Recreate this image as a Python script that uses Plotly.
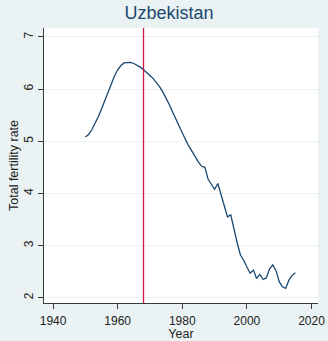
import plotly.graph_objects as go

# Total fertility rate, Uzbekistan, annual 1950-2015
years = list(range(1950, 2016))
tfr = [
    5.08, 5.13, 5.22, 5.34, 5.47, 5.62, 5.78, 5.94, 6.10, 6.25,
    6.37, 6.45, 6.50, 6.51, 6.51, 6.49, 6.46, 6.42, 6.37, 6.32,
    6.26, 6.20, 6.13, 6.04, 5.94, 5.83, 5.70, 5.56, 5.42, 5.28,
    5.15, 5.03, 4.91, 4.80, 4.70, 4.60, 4.52, 4.50, 4.27, 4.17,
    4.08, 4.19, 3.98, 3.78, 3.55, 3.59, 3.30, 3.05, 2.82, 2.72,
    2.59, 2.47, 2.53, 2.37, 2.45, 2.35, 2.38, 2.55, 2.63, 2.52,
    2.31, 2.21, 2.18, 2.34, 2.43, 2.48,
]
marker_year = 1968

x_ticks = [1940, 1960, 1980, 2000, 2020]
y_ticks = [2, 3, 4, 5, 6, 7]

navy = "#1A476F"
bg = "#EAF2F3"
axis_col = "#3a3a3a"
font = "Liberation Sans, Arial, sans-serif"

fig = go.Figure()
fig.add_trace(go.Scatter(
    x=years, y=tfr, mode="lines",
    line=dict(color=navy, width=1.3),
    showlegend=False, hoverinfo="skip",
))

fig.add_shape(
    type="line", xref="x", yref="paper",
    x0=marker_year, x1=marker_year, y0=0, y1=1,
    line=dict(color="#CC1845", width=1.3),
)

fig.update_layout(
    width=328, height=341,
    margin=dict(l=44, r=10, t=28, b=38),
    paper_bgcolor=bg, plot_bgcolor="white",
    font=dict(family=font, color="#222222"),
    title=dict(
        text="Uzbekistan", x=0.515, xanchor="center",
        yref="container", y=(341 - 13) / 341, yanchor="middle",
        font=dict(size=18, color=navy, family=font),
    ),
    xaxis=dict(
        range=[1937.2, 2022.0], tickvals=x_ticks,
        automargin=False,
        showgrid=False, zeroline=False,
        showline=True, linecolor=axis_col, linewidth=1,
        ticks="outside", ticklen=5, tickcolor=axis_col,
        ticklabelstandoff=2,
        tickfont=dict(size=12, color="#222222"),
        title=dict(text="Year", font=dict(size=12.5), standoff=2),
    ),
    yaxis=dict(
        range=[1.9, 7.17], tickvals=y_ticks,
        automargin=False,
        showgrid=True, gridcolor=bg, gridwidth=1, zeroline=False,
        showline=True, linecolor=axis_col, linewidth=1,
        ticks="outside", ticklen=5, tickcolor=axis_col,
        tickangle=-90, ticklabelstandoff=0,
        tickfont=dict(size=12, color="#222222"),
        title=dict(text="Total fertility rate", font=dict(size=12.5), standoff=0),
    ),
)

fig.write_html("out.html")
